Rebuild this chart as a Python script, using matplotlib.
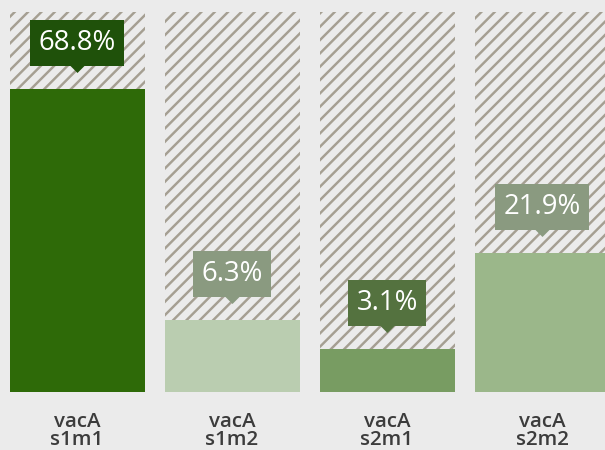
import matplotlib
matplotlib.use("Agg")
import matplotlib.pyplot as plt
from matplotlib.transforms import offset_copy

# data
categories = ["vacA\ns1m1", "vacA\ns1m2", "vacA\ns2m1", "vacA\ns2m2"]
bar_heights = [79.7, 18.9, 11.3, 36.6]   # share of the hatched column
value_labels = ["68.8%", "6.3%", "3.1%", "21.9%"]
full_height = 100

bar_colors = ["#2e6a08", "#bacdb0", "#789c62", "#9bb78a"]
box_colors = ["#1f510a", "#8a9a80", "#54723f", "#8a9a80"]
bg = "#ebebeb"
hatch_color = "#a59f92"
text_color = "#3c3c3c"

DPI = 160
plt.rcParams["hatch.linewidth"] = 1.1
plt.rcParams["hatch.color"] = hatch_color

fig = plt.figure(figsize=(605 / DPI, 450 / DPI), dpi=DPI, facecolor=bg)
ax = fig.add_axes([0, 58 / 450, 1, 380 / 450])
ax.set_facecolor(bg)

x = list(range(len(categories)))
width = 135 / 155

# hatched "remaining" column behind each bar
ax.bar(x, [full_height] * len(x), width=width, color=bg, hatch="////",
       edgecolor=hatch_color, linewidth=0)
ax.bar(x, bar_heights, width=width, color=bar_colors, linewidth=0)

px = 72 / DPI  # points per pixel
for xi, h, lab, bc in zip(x, bar_heights, value_labels, box_colors):
    ax.annotate(lab, xy=(xi, h), xytext=(0, 46 * px), textcoords="offset points",
                ha="center", va="center", color="white", fontsize=27.5 * px,
                family="Open Sans",
                bbox=dict(boxstyle="square,pad=0.32", fc=bc, ec="none"))
    # little pointer under the label box
    tri = offset_copy(ax.transData, fig=fig, y=25, units="dots")
    ax.plot([xi], [h], marker=[(-1, 0), (1, 0), (0, -1)], ms=17 * px,
            color=bc, mec="none", transform=tri)

ax.set_xlim(-77 / 155, (605 - 77) / 155)
ax.set_ylim(0, full_height)
ax.set_xticks(x)
ax.set_xticklabels(categories, fontsize=20.5 * px, family="Open Sans",
                   fontweight="semibold", color=text_color, linespacing=0.85)
ax.tick_params(axis="x", length=0, pad=20 * px)
ax.set_yticks([])
for s in ax.spines.values():
    s.set_visible(False)

fig.savefig("out.png", dpi=DPI, facecolor=bg)
